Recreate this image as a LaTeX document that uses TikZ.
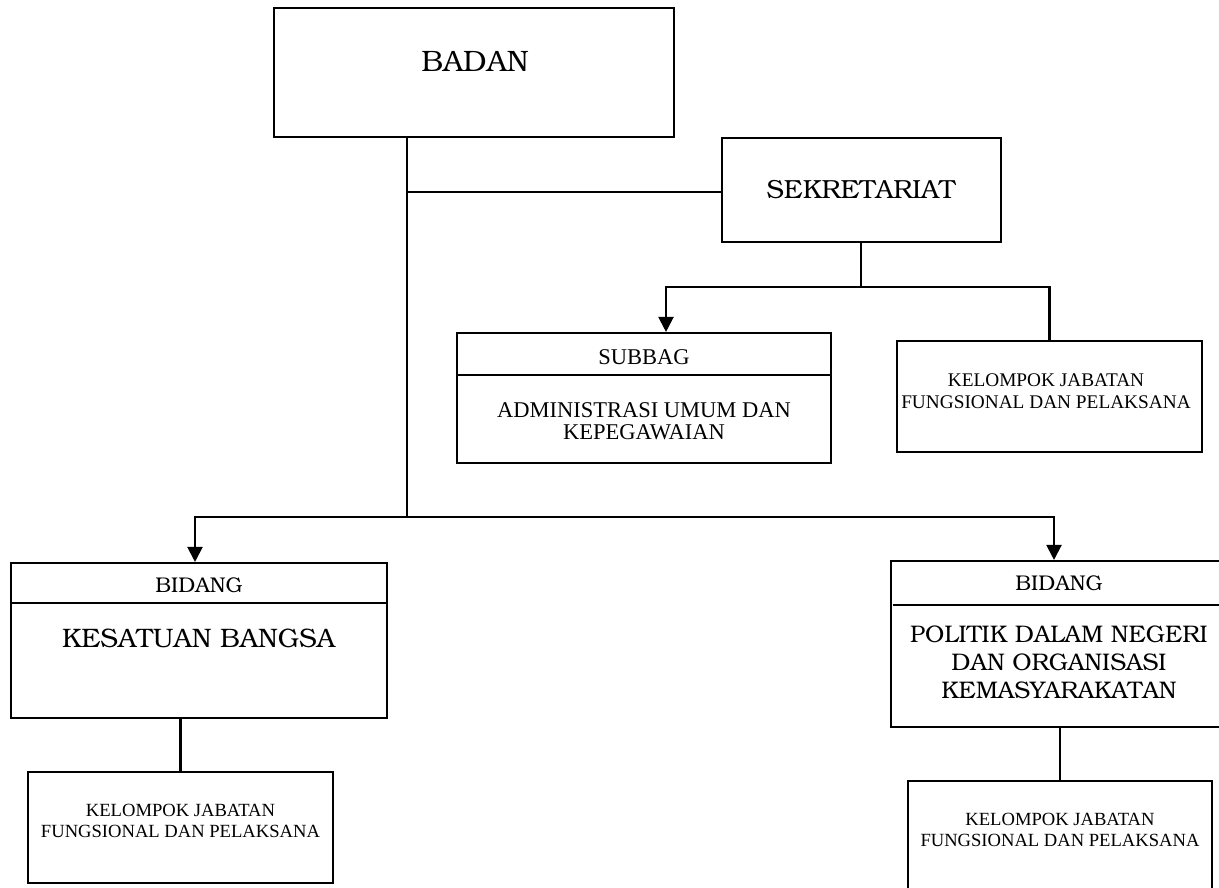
\documentclass[tikz,border=0pt]{standalone}
\usepackage[T1]{fontenc}
\usepackage{fontspec}
\setmainfont{Liberation Serif}
\usetikzlibrary{arrows.meta}
% Bookman (URW) for the unit titles
\newcommand\bkfont{\fontencoding{T1}\fontfamily{pbk}\selectfont}
\newcommand\fsz[1]{\fontsize{#1}{#1}\selectfont}

\tikzset{
  unitbox/.style={draw, line width=2.1pt, inner sep=0pt},
  conn/.style={line width=2.1pt},
  arr/.style={line width=2.1pt, -{Triangle[length=15pt,width=15pt]}},
  lbl/.style={inner sep=0pt, align=center, anchor=center},
}

\begin{document}
\begin{tikzpicture}[x=1pt, y=-1pt]
\useasboundingbox (0,0) rectangle (1219,887);
\clip (0,0) rectangle (1219,887);
\fill[white] (0,0) rectangle (1219,887);

% boxes
\node[unitbox, minimum width=400pt, minimum height=129pt] (badan)  at (474,72.5) {};
\node[unitbox, minimum width=279pt, minimum height=104pt] (sek)    at (861.5,190) {};
\node[unitbox, minimum width=374pt, minimum height=130pt] (subbag) at (644,398) {};
\node[unitbox, minimum width=305pt, minimum height=111pt] (kelA)   at (1049.5,396.5) {};
\node[unitbox, minimum width=376pt, minimum height=155pt] (bidL)   at (199,640.5) {};
\node[unitbox, minimum width=337pt, minimum height=166pt] (bidR)   at (1059.5,644) {};
\node[unitbox, minimum width=305pt, minimum height=111pt] (kelL)   at (180.5,827.5) {};
\node[unitbox, minimum width=304pt, minimum height=111pt] (kelR)   at (1060,836.5) {};

% header rules inside the divided boxes
\draw[conn] ([yshift=-43pt]subbag.north west) -- ([yshift=-43pt]subbag.north east);
\draw[conn] ([yshift=-41pt]bidL.north west) -- ([yshift=-41pt]bidL.north east);
\draw[conn] ([xshift=3pt,yshift=-45pt]bidR.north west) -- ([yshift=-45pt]bidR.north east);

% texts
\node[lbl, font=\bkfont\fsz{29.5}] (tBadan) at (475,61) {BADAN};
\node[lbl, font=\bkfont\fsz{26.2}] (tSek) at (861,190) {SEKRETARIAT};
\node[lbl, font=\fsz{22.5}] (tSub) at (644,357) {SUBBAG};
\node[lbl, font=\fontsize{22.5}{22}\selectfont] (tAdm) at (644,421.5) {ADMINISTRASI UMUM DAN\\KEPEGAWAIAN};
\node[lbl, font=\fontsize{19.3}{21.5}\selectfont] (tKelA) at (1046,391) {KELOMPOK JABATAN\\FUNGSIONAL DAN PELAKSANA};
\node[lbl, font=\bkfont\fsz{21.3}] (tBidL) at (199,585.5) {BIDANG};
\node[lbl, font=\bkfont\fsz{26.7}] (tKes) at (198.5,638) {KESATUAN BANGSA};
\node[lbl, font=\fontsize{18.6}{21}\selectfont] (tKelL) at (180.5,820.5) {KELOMPOK JABATAN\\FUNGSIONAL DAN PELAKSANA};
\node[lbl, font=\bkfont\fsz{21.3}] (tBidR) at (1059,583) {BIDANG};
\node[lbl, font=\bkfont\fontsize{24}{27.8}\selectfont] (tPol) at (1059,662.5) {POLITIK DALAM NEGERI\\DAN ORGANISASI\\KEMASYARAKATAN};
\node[lbl, font=\fontsize{18.6}{21}\selectfont] (tKelR) at (1060,830) {KELOMPOK JABATAN\\FUNGSIONAL DAN PELAKSANA};

% connectors
\coordinate (tee) at (407,192);
\coordinate (trunk) at (407,517);
\coordinate (aL) at (195,517);
\coordinate (aR) at (1054,517);
\coordinate (sj) at (861,287);
\coordinate (aS) at (666,287);

\draw[conn] (badan.south -| trunk) -- (trunk);
\draw[conn] (tee) -- (tee -| sek.west);
\draw[arr] (trunk) -- (aL) -- (aL |- bidL.north);
\draw[arr] (trunk) -- (aR) -- (aR |- bidR.north);
\draw[conn] (sek.south -| sj) -- (sj);
\draw[arr] (sj) -- (aS) -- (aS |- subbag.north);
\draw[conn] (sj) -| (kelA.north);
\draw[conn] (kelL.north |- bidL.south) -- (kelL.north);
\draw[conn] (kelR.north |- bidR.south) -- (kelR.north);
\end{tikzpicture}
\end{document}
